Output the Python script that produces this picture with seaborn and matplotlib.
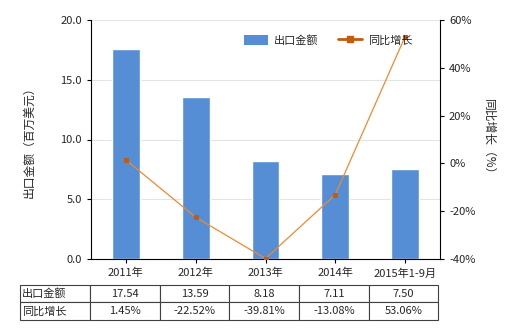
import matplotlib
matplotlib.use("Agg")
import matplotlib.pyplot as plt
from matplotlib.patches import Patch
from matplotlib.lines import Line2D
import seaborn as sns
import pandas as pd
import numpy as np

categories = ["2011年", "2012年", "2013年", "2014年", "2015年1-9月"]
export_values = [17.54, 13.59, 8.18, 7.11, 7.50]
growth_values = [1.45, -22.52, -39.81, -13.08, 53.06]
export_labels = ["17.54", "13.59", "8.18", "7.11", "7.50"]
growth_labels = ["1.45%", "-22.52%", "-39.81%", "-13.08%", "53.06%"]

sns.set_style("white")
plt.rcParams['font.family'] = ['Noto Sans CJK SC', 'DejaVu Sans']
plt.rcParams['axes.unicode_minus'] = False

fig = plt.figure(figsize=(5.2, 3.3), dpi=100)
ax = fig.add_axes([91/520, 1-259/330, 349/520, 239/330])

df = pd.DataFrame({"cat": categories, "val": export_values, "g": growth_values})
bar_color = "#558ED5"
line_color = "#F08A2E"
marker_color = "#C55A11"
sns.barplot(data=df, x="cat", y="val", color=bar_color, width=0.4, ax=ax,
            saturation=1, zorder=2)
ax.set_ylim(0, 20)
ax.set_yticks([0, 5, 10, 15, 20])
ax.set_yticklabels(["0.0", "5.0", "10.0", "15.0", "20.0"])
ax.set_xlim(-0.5, 4.5)
ax.grid(axis="y", color="#E4E4E4", linewidth=0.8, zorder=0)
ax.set_axisbelow(True)
ax.set_xlabel("")
ax.set_ylabel("出口金额（百万美元）", fontsize=8.5, labelpad=18)
for s in ["top", "right"]:
    ax.spines[s].set_visible(False)
ax.spines["left"].set_color("black")
ax.spines["bottom"].set_color("black")
ax.tick_params(axis="both", labelsize=8, length=3, direction="out", left=True, bottom=True, color="black")

ax2 = ax.twinx()
sns.lineplot(data=df, x="cat", y="g", ax=ax2, color=line_color, linewidth=0.9,
             marker="s", markersize=3.5, markerfacecolor=marker_color,
             markeredgecolor=marker_color, sort=False, zorder=3)
ax2.set_ylim(-40, 60)
ax2.set_yticks([-40, -20, 0, 20, 40, 60])
ax2.set_yticklabels([f"{v}%" for v in [-40, -20, 0, 20, 40, 60]])
ax2.set_ylabel("同比增长（%）", fontsize=8.5, rotation=270, labelpad=14)
ax2.set_xlabel("")
for s in ["top", "left", "bottom"]:
    ax2.spines[s].set_visible(False)
ax2.spines["right"].set_color("black")
ax2.tick_params(axis="y", labelsize=8, length=3, direction="out", right=True, color="black")
ax2.set_xlim(-0.5, 4.5)
ax2.grid(False)
if ax2.get_legend() is not None:
    ax2.get_legend().remove()

handles = [Patch(facecolor=bar_color, edgecolor="none"),
           Line2D([0], [0], color=marker_color, linewidth=2, marker="s",
                  markersize=4, markerfacecolor=marker_color)]
leg = ax2.legend(handles, ["出口金额", "同比增长"], loc="upper right",
                 bbox_to_anchor=(0.95, 0.98), ncol=2, frameon=False, fontsize=8,
                 handlelength=2.2, handleheight=1.0, columnspacing=1.8,
                 handletextpad=0.5)

# Table
cell_text = [["出口金额"] + export_labels, ["同比增长"] + growth_labels]
tbl = ax.table(cellText=cell_text, bbox=[-0.203, -0.255, 1.198, 0.146],
               cellLoc="center", colWidths=[70] + [69.6] * 5)
tbl.auto_set_font_size(False)
tbl.set_fontsize(8)
for (r, c), cell in tbl.get_celld().items():
    cell.set_edgecolor("#404040")
    cell.set_linewidth(0.8)
    if c == 0:
        cell.get_text().set_ha("left")
        cell.PAD = 0.03

fig.savefig("out.png", dpi=100)
